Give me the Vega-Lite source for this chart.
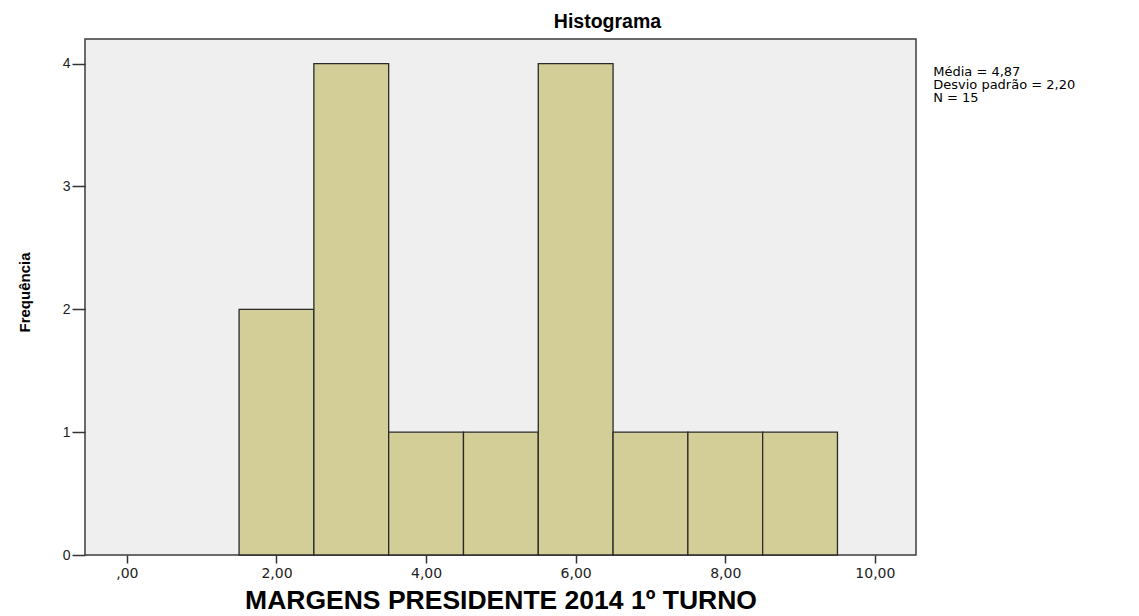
{
  "$schema": "https://vega.github.io/schema/vega-lite/v6.json",
  "width": 831,
  "height": 516,
  "autosize": {"type": "none"},
  "padding": {"left": 85, "top": 39, "right": 223, "bottom": 61},
  "background": "white",
  "title": {
    "text": "Histograma",
    "font": "Liberation Sans",
    "fontSize": 19.5,
    "fontWeight": "bold",
    "color": "black",
    "anchor": "middle",
    "dx": 107,
    "offset": 7
  },
  "config": {
    "view": {"fill": "#EFEFEF", "stroke": "#3C3C3C", "strokeWidth": 1.5},
    "axis": {"grid": false, "domain": false, "labelFont": "DejaVu Sans", "labelFontSize": 14, "labelColor": "#222222", "tickColor": "#333333", "tickWidth": 1.5}
  },
  "layer": [
    {
      "data": {
        "values": [
          {"bin_start": 1.5, "bin_end": 2.5, "count": 2},
          {"bin_start": 2.5, "bin_end": 3.5, "count": 4},
          {"bin_start": 3.5, "bin_end": 4.5, "count": 1},
          {"bin_start": 4.5, "bin_end": 5.5, "count": 1},
          {"bin_start": 5.5, "bin_end": 6.5, "count": 4},
          {"bin_start": 6.5, "bin_end": 7.5, "count": 1},
          {"bin_start": 7.5, "bin_end": 8.5, "count": 1},
          {"bin_start": 8.5, "bin_end": 9.5, "count": 1}
        ]
      },
      "mark": {"type": "rect", "fill": "#D3CE98", "stroke": "#2A2A2A", "strokeWidth": 1.3},
      "encoding": {
        "x": {
          "field": "bin_start",
          "type": "quantitative",
          "scale": {"domain": [-0.56, 10.55], "nice": false, "zero": false},
          "axis": {
            "values": [0, 2, 4, 6, 8, 10],
            "labelExpr": "datum.value == 0 ? ',00' : replace(format(datum.value, '.2f'), '.', ',')",
            "tickSize": 8,
            "labelPadding": 3,
            "title": "MARGENS PRESIDENTE 2014 1º TURNO",
            "titleFont": "Liberation Sans",
            "titleFontSize": 26.5,
            "titleFontWeight": "bold",
            "titleColor": "black",
            "titlePadding": 7
          }
        },
        "x2": {"field": "bin_end"},
        "y": {
          "field": "count",
          "type": "quantitative",
          "scale": {"domain": [0, 4.2], "nice": false},
          "axis": {
            "values": [0, 1, 2, 3, 4],
            "format": "d",
            "tickSize": 13,
            "labelPadding": 2,
            "labelFont": "Liberation Sans",
            "labelFontSize": 14,
            "title": "Frequência",
            "titleFont": "Liberation Sans",
            "titleFontSize": 15,
            "titleFontWeight": "bold",
            "titleColor": "black",
            "titlePadding": 30,
            "titleY": 253
          }
        },
        "y2": {"datum": 0}
      }
    },
    {
      "data": {"values": [{"label": "Média = 4,87\nDesvio padrão = 2,20\nN = 15"}]},
      "mark": {"type": "text", "align": "left", "baseline": "top", "lineBreak": "\n", "font": "DejaVu Sans", "fontSize": 13, "lineHeight": 13, "color": "black", "clip": false},
      "encoding": {
        "x": {"datum": 10.78},
        "y": {"datum": 3.98},
        "text": {"field": "label"}
      }
    }
  ]
}
